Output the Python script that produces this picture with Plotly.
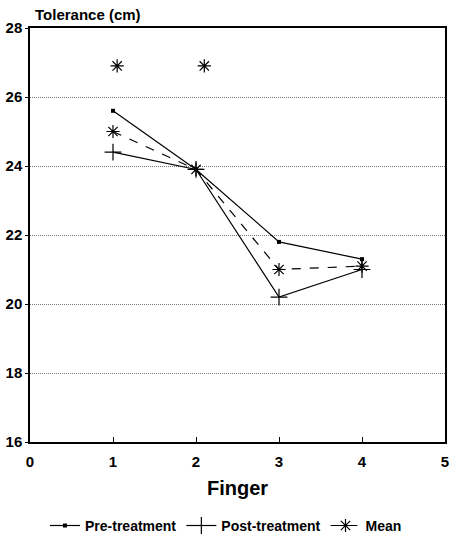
import plotly.graph_objects as go

fingers = [1, 2, 3, 4]
pre_treatment = [25.6, 23.9, 21.8, 21.3]
post_treatment = [24.4, 23.9, 20.2, 21.0]
mean_vals = [25.0, 23.9, 21.0, 21.1]
extra_x = [1.05, 2.1]
extra_y = [26.9, 26.9]
y_ticks = [16, 18, 20, 22, 24, 26, 28]
x_ticks = [0, 1, 2, 3, 4, 5]

FONT = "Liberation Sans, Arial, sans-serif"
fig = go.Figure()
fig.add_trace(go.Scatter(x=fingers, y=pre_treatment, mode="lines+markers", name="Pre-treatment",
                         line=dict(color="black", width=1.2),
                         marker=dict(symbol="square", size=4, color="black")))
fig.add_trace(go.Scatter(x=fingers, y=post_treatment, mode="lines+markers", name="Post-treatment",
                         line=dict(color="black", width=1.2),
                         marker=dict(symbol="cross-thin-open", size=12, color="black",
                                     line=dict(color="black", width=1.2))))
fig.add_trace(go.Scatter(x=fingers, y=mean_vals, mode="lines+markers", name="Mean",
                         line=dict(color="black", width=1.2, dash="dash"),
                         marker=dict(symbol="asterisk-open", size=11, color="black",
                                     line=dict(color="black", width=1.2))))
fig.add_trace(go.Scatter(x=extra_x, y=extra_y, mode="markers", showlegend=False,
                         marker=dict(symbol="asterisk-open", size=11, color="black",
                                     line=dict(color="black", width=1.2))))

fig.update_layout(
    width=452, height=535,
    margin=dict(l=30, r=7, t=28, b=93),
    plot_bgcolor="white", paper_bgcolor="white",
    font=dict(family=FONT, color="black", size=13),
    showlegend=True,
    legend=dict(orientation="h", x=0.5, xref="container", xanchor="center",
                y=0.017, yref="container", yanchor="middle",
                font=dict(family=FONT, size=14, weight="bold"), itemwidth=30, tracegroupgap=0),
    xaxis=dict(range=[0, 5], tickvals=x_ticks, showline=True, linecolor="black", linewidth=1.5,
               mirror=True, ticks="inside", ticklen=5, tickcolor="black", showgrid=False, zeroline=False,
               automargin=False, ticklabelstandoff=5,
               tickfont=dict(family=FONT, size=15, weight="bold"),
               title=dict(text="Finger", font=dict(family=FONT, size=20, weight="bold"), standoff=12)),
    yaxis=dict(range=[16, 28], tickvals=y_ticks, showline=True, linecolor="black", linewidth=1.5,
               mirror=True, ticks="outside", ticklen=3, tickcolor="black", showgrid=True,
               gridcolor="#777", griddash="1px,1px", gridwidth=1, zeroline=False, automargin=False,
               tickfont=dict(family=FONT, size=15, weight="bold")),
    annotations=[dict(text="Tolerance (cm)", x=0, xref="paper", xanchor="left", xshift=3,
                      y=1, yref="paper", yanchor="middle", yshift=14, showarrow=False,
                      font=dict(family=FONT, size=15, weight="bold"))],
)
fig.write_html("out.html")
